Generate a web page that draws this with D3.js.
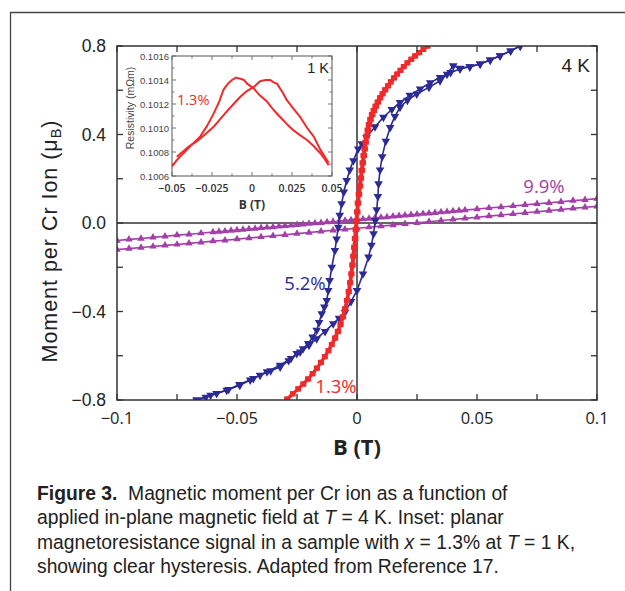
<!DOCTYPE html>
<html><head><meta charset="utf-8">
<script src="https://cdn.jsdelivr.net/npm/d3@7"></script>
<style>body{margin:0;background:#fff}svg{display:block}</style>
</head><body>
<script>
// ---------- data ----------
const xTicks = [-0.1, -0.05, 0, 0.05, 0.1];
const xTickLabels = ["\u22120.1", "\u22120.05", "0", "0.05", "0.1"];
const xMinor = [-0.075, -0.025, 0.025, 0.075];
const yTicks = [-0.8, -0.4, 0, 0.4, 0.8];
const yTickLabels = ["\u22120.8", "\u22120.4", "0.0", "0.4", "0.8"];
const yMinor = [-0.6, -0.2, 0.2, 0.6];

// 1.3% sample, sweep down and sweep up  [B (T), M (muB)]
const red13Down = [[0.0293,0.800],[0.0275,0.785],[0.0257,0.770],[0.0240,0.755],[0.0224,0.740],[0.0208,0.724],[0.0193,0.707],[0.0179,0.690],[0.0165,0.673],[0.0152,0.656],[0.0139,0.638],[0.0127,0.620],[0.0115,0.602],[0.0104,0.584],[0.0094,0.566],[0.0084,0.547],[0.0075,0.528],[0.0067,0.509],[0.0060,0.490],[0.0053,0.468],[0.0047,0.445],[0.0042,0.420],[0.0037,0.393],[0.0033,0.365],[0.0029,0.335],[0.0025,0.305],[0.0021,0.272],[0.0017,0.238],[0.0013,0.203],[0.0009,0.167],[0.0005,0.130],[0.0001,0.090],[-0.0002,0.050],[-0.0005,0.010],[-0.0008,-0.030],[-0.0011,-0.070],[-0.0014,-0.110],[-0.0018,-0.150],[-0.0022,-0.190],[-0.0026,-0.230],[-0.0031,-0.270],[-0.0037,-0.310],[-0.0044,-0.350],[-0.0052,-0.388],[-0.0061,-0.424],[-0.0071,-0.458],[-0.0082,-0.490],[-0.0094,-0.520],[-0.0107,-0.549],[-0.0121,-0.577],[-0.0136,-0.604],[-0.0152,-0.630],[-0.0169,-0.656],[-0.0187,-0.681],[-0.0206,-0.705],[-0.0226,-0.728],[-0.0247,-0.750],[-0.0269,-0.772],[-0.0293,-0.795]];
const red13Up = [[-0.0290,-0.800],[-0.0266,-0.772],[-0.0244,-0.750],[-0.0222,-0.728],[-0.0202,-0.705],[-0.0183,-0.681],[-0.0165,-0.656],[-0.0148,-0.630],[-0.0132,-0.604],[-0.0117,-0.577],[-0.0103,-0.549],[-0.0089,-0.520],[-0.0077,-0.490],[-0.0066,-0.458],[-0.0056,-0.424],[-0.0047,-0.388],[-0.0039,-0.350],[-0.0032,-0.310],[-0.0026,-0.270],[-0.0021,-0.230],[-0.0016,-0.190],[-0.0012,-0.150],[-0.0008,-0.110],[-0.0005,-0.070],[-0.0002,-0.030],[0.0001,0.010],[0.0004,0.050],[0.0007,0.090],[0.0011,0.130],[0.0015,0.167],[0.0019,0.203],[0.0023,0.238],[0.0027,0.272],[0.0031,0.305],[0.0035,0.335],[0.0039,0.365],[0.0043,0.393],[0.0048,0.420],[0.0053,0.445],[0.0059,0.468],[0.0066,0.490],[0.0073,0.509],[0.0081,0.528],[0.0090,0.547],[0.0099,0.566],[0.0109,0.584],[0.0120,0.602],[0.0131,0.620],[0.0143,0.638],[0.0156,0.656],[0.0169,0.673],[0.0183,0.690],[0.0197,0.707],[0.0212,0.724],[0.0228,0.740],[0.0244,0.755],[0.0261,0.770],[0.0278,0.785],[0.0296,0.800]];

// 5.2% sample
const blue52Down = [[0.0680,0.800],[0.0640,0.778],[0.0596,0.756],[0.0555,0.737],[0.0513,0.719],[0.0470,0.706],[0.0429,0.696],[0.0390,0.680],[0.0346,0.658],[0.0305,0.634],[0.0263,0.606],[0.0220,0.577],[0.0179,0.545],[0.0145,0.513],[0.0110,0.478],[0.0075,0.435],[0.0040,0.387],[0.0020,0.358],[0.0005,0.335],[-0.0015,0.282],[-0.0030,0.240],[-0.0043,0.192],[-0.0055,0.140],[-0.0064,0.087],[-0.0072,0.035],[-0.0078,-0.019],[-0.0085,-0.072],[-0.0092,-0.124],[-0.0105,-0.200],[-0.0114,-0.260],[-0.0120,-0.305],[-0.0126,-0.350],[-0.0136,-0.380],[-0.0147,-0.410],[-0.0158,-0.450],[-0.0168,-0.485],[-0.0185,-0.515],[-0.0203,-0.545],[-0.0225,-0.568],[-0.0251,-0.590],[-0.0285,-0.622],[-0.0320,-0.651],[-0.0360,-0.668],[-0.0404,-0.688],[-0.0445,-0.710],[-0.0488,-0.733],[-0.0535,-0.752],[-0.0585,-0.771],[-0.0630,-0.787],[-0.0668,-0.800]];
const blue52Up = [[-0.0668,-0.800],[-0.0610,-0.778],[-0.0543,-0.756],[-0.0490,-0.730],[-0.0432,-0.703],[-0.0375,-0.672],[-0.0320,-0.643],[-0.0275,-0.612],[-0.0237,-0.583],[-0.0200,-0.553],[-0.0168,-0.523],[-0.0133,-0.490],[-0.0099,-0.455],[-0.0075,-0.430],[-0.0050,-0.403],[-0.0025,-0.355],[0.0000,-0.305],[0.0025,-0.230],[0.0048,-0.154],[0.0060,-0.100],[0.0069,-0.049],[0.0076,0.010],[0.0082,0.060],[0.0087,0.120],[0.0090,0.177],[0.0096,0.240],[0.0105,0.300],[0.0120,0.370],[0.0138,0.432],[0.0158,0.482],[0.0179,0.523],[0.0210,0.555],[0.0249,0.583],[0.0300,0.613],[0.0346,0.643],[0.0375,0.672],[0.0401,0.711],[0.0430,0.700],[0.0470,0.706],[0.0513,0.719],[0.0555,0.737],[0.0596,0.756],[0.0640,0.778],[0.0680,0.800]];

// 9.9% sample
const purple99Upper = [[-0.1,-0.079],[-0.095,-0.074],[-0.09,-0.070],[-0.085,-0.065],[-0.08,-0.060],[-0.075,-0.055],[-0.07,-0.051],[-0.065,-0.046],[-0.06,-0.041],[-0.0575,-0.039],[-0.055,-0.037],[-0.0525,-0.034],[-0.05,-0.032],[-0.0475,-0.030],[-0.045,-0.027],[-0.0425,-0.025],[-0.04,-0.022],[-0.0375,-0.020],[-0.035,-0.018],[-0.0325,-0.015],[-0.03,-0.013],[-0.0275,-0.011],[-0.025,-0.008],[-0.0225,-0.006],[-0.02,-0.003],[-0.0175,-0.001],[-0.015,0.001],[-0.0125,0.004],[-0.01,0.006],[-0.0075,0.008],[-0.005,0.011],[-0.0025,0.013],[0,0.016],[0.0025,0.018],[0.005,0.020],[0.0075,0.023],[0.01,0.025],[0.0125,0.027],[0.015,0.030],[0.0175,0.032],[0.02,0.035],[0.0225,0.037],[0.025,0.039],[0.0275,0.042],[0.03,0.044],[0.0325,0.046],[0.035,0.049],[0.0375,0.051],[0.04,0.054],[0.0425,0.056],[0.045,0.058],[0.05,0.063],[0.055,0.068],[0.06,0.072],[0.065,0.077],[0.07,0.082],[0.075,0.087],[0.08,0.091],[0.085,0.096],[0.09,0.101],[0.095,0.105],[0.1,0.110]];
const purple99Lower = [[-0.1,-0.120],[-0.095,-0.116],[-0.09,-0.111],[-0.085,-0.106],[-0.08,-0.101],[-0.075,-0.097],[-0.07,-0.092],[-0.065,-0.087],[-0.06,-0.082],[-0.055,-0.078],[-0.05,-0.073],[-0.045,-0.068],[-0.04,-0.063],[-0.035,-0.058],[-0.03,-0.053],[-0.025,-0.048],[-0.02,-0.043],[-0.015,-0.038],[-0.01,-0.033],[-0.005,-0.029],[0,-0.024],[0.005,-0.019],[0.01,-0.014],[0.015,-0.009],[0.02,-0.004],[0.025,0.001],[0.03,0.006],[0.035,0.011],[0.04,0.016],[0.045,0.021],[0.05,0.026],[0.055,0.031],[0.06,0.036],[0.065,0.041],[0.07,0.046],[0.075,0.051],[0.08,0.056],[0.085,0.061],[0.09,0.066],[0.095,0.071],[0.1,0.075]];

// inset: resistivity (mOhm m) vs B, x = 1.3%, T = 1 K
const insetSweepA = [[-0.05,0.10068],[-0.0465,0.10074],[-0.0435,0.10078],[-0.0406,0.10082],[-0.037,0.10087],[-0.0323,0.10093],[-0.028,0.10102],[-0.024,0.10112],[-0.0205,0.10122],[-0.0178,0.10132],[-0.015,0.10137],[-0.0125,0.10140],[-0.0100,0.10142],[-0.0073,0.10141],[-0.005,0.10140],[-0.0031,0.10137],[0.001,0.10133],[0.005,0.10127],[0.0094,0.10122],[0.0135,0.10115],[0.0177,0.10109],[0.022,0.10103],[0.026,0.10098],[0.030,0.10094],[0.0344,0.10090],[0.0385,0.10085],[0.0427,0.10079],[0.0455,0.10074],[0.0479,0.10069]];
const insetSweepB = [[-0.047,0.10076],[-0.0435,0.10080],[-0.0400,0.10084],[-0.0344,0.10089],[-0.029,0.10095],[-0.024,0.10101],[-0.0195,0.10108],[-0.0156,0.10114],[-0.0115,0.10120],[-0.0073,0.10126],[-0.003,0.10131],[0.001,0.10134],[0.005,0.10139],[0.0085,0.10140],[0.0114,0.10140],[0.0135,0.10138],[0.0156,0.10137],[0.019,0.10130],[0.0219,0.10123],[0.026,0.10116],[0.0302,0.10109],[0.0345,0.10100],[0.0385,0.10093],[0.0427,0.10082],[0.0455,0.10076],[0.0479,0.10071]];
const insetXTicks = [-0.05, -0.025, 0, 0.025, 0.05];
const insetXTickLabels = ["\u22120.05", "\u22120.025", "0", "0.025", "0.05"];
const insetYTicks = [0.1006, 0.1008, 0.1010, 0.1012, 0.1014, 0.1016];
const insetYTickLabels = ["0.1006", "0.1008", "0.1010", "0.1012", "0.1014", "0.1016"];

const captionLines = [
  [["Figure 3.", "b"], ["\u00a0 Magnetic moment per Cr ion as a function of", ""]],
  [["applied in-plane magnetic field at ", ""], ["T", "i"], [" = 4 K. Inset: planar", ""]],
  [["magnetoresistance signal in a sample with ", ""], ["x", "i"], [" = 1.3% at ", ""], ["T", "i"], [" = 1 K,", ""]],
  [["showing clear hysteresis. Adapted from Reference 17.", ""]]
];

// ---------- drawing ----------
const W = 625, H = 591;
const RED = "#f0292b", BLUE = "#2c2a94", PURPLE = "#a23fa8", FRAME = "#333";
const svg = d3.select("body").append("svg").attr("width", W).attr("height", H);

// outer figure border
svg.append("path").attr("d", "M10.5,591 L10.5,12.5 L625,12.5").attr("fill", "none").attr("stroke", "#444").attr("stroke-width", 1.3);

const x = d3.scaleLinear().domain([-0.1, 0.1]).range([117, 597]);
const y = d3.scaleLinear().domain([-0.8, 0.8]).range([400, 46]);
const L = 117, R = 597, T = 46, B = 400;

svg.append("defs").append("clipPath").attr("id", "clipMain")
  .append("rect").attr("x", L).attr("y", T).attr("width", R - L).attr("height", B - T);

// zero lines
svg.append("line").attr("x1", x(0)).attr("x2", x(0)).attr("y1", T).attr("y2", B).attr("stroke", FRAME).attr("stroke-width", 1.5);
svg.append("line").attr("x1", L).attr("x2", R).attr("y1", y(0)).attr("y2", y(0)).attr("stroke", FRAME).attr("stroke-width", 1.5);

const plotG = svg.append("g").attr("clip-path", "url(#clipMain)");
const line = d3.line().x(d => x(d[0])).y(d => y(d[1]));

function series(data, color, sym, size, rot, lw) {
  plotG.append("path").datum(data).attr("d", line).attr("fill", "none").attr("stroke", color).attr("stroke-width", lw).attr("stroke-linejoin", "round");
  plotG.append("g").selectAll("path").data(data).join("path")
    .attr("d", d3.symbol().type(sym).size(size))
    .attr("transform", d => `translate(${x(d[0])},${y(d[1])}) rotate(${rot})`)
    .attr("fill", color);
}
series(purple99Lower, PURPLE, d3.symbolTriangle, 24, 0, 1.6);
series(purple99Upper, PURPLE, d3.symbolTriangle, 24, 0, 1.6);
series(blue52Up, BLUE, d3.symbolTriangle, 32, 180, 1.6);
series(blue52Down, BLUE, d3.symbolTriangle, 32, 180, 1.6);
series(red13Up, RED, d3.symbolSquare, 26, 0, 2.6);
series(red13Down, RED, d3.symbolSquare, 26, 0, 2.6);

// frame
svg.append("rect").attr("x", L).attr("y", T).attr("width", R - L).attr("height", B - T).attr("fill", "none").attr("stroke", FRAME).attr("stroke-width", 1.5);

// ticks (inward, all four sides)
const tk = 6;
const allX = xTicks.concat(xMinor), allY = yTicks.concat(yMinor);
const tg = svg.append("g").attr("stroke", FRAME).attr("stroke-width", 1.3);
allX.forEach(v => {
  tg.append("line").attr("x1", x(v)).attr("x2", x(v)).attr("y1", B).attr("y2", B - tk);
  tg.append("line").attr("x1", x(v)).attr("x2", x(v)).attr("y1", T).attr("y2", T + tk);
});
allY.forEach(v => {
  tg.append("line").attr("y1", y(v)).attr("y2", y(v)).attr("x1", L).attr("x2", L + tk);
  tg.append("line").attr("y1", y(v)).attr("y2", y(v)).attr("x1", R).attr("x2", R - tk);
});

// tick labels
svg.append("g").selectAll("text").data(xTicks).join("text")
  .attr("x", d => x(d)).attr("y", 424).attr("text-anchor", "middle")
  .attr("font-family", "Open Sans, sans-serif").attr("font-size", 16.5).attr("fill", "#222")
  .text((d, i) => xTickLabels[i]);
svg.append("g").selectAll("text").data(yTicks).join("text")
  .attr("x", 106).attr("y", d => y(d) + 6).attr("text-anchor", "end")
  .attr("font-family", "Liberation Sans, Arial, sans-serif").attr("font-size", 17.5).attr("fill", "#222")
  .text((d, i) => yTickLabels[i]);

// axis titles
svg.append("text").attr("x", x(0)).attr("y", 455).attr("text-anchor", "middle")
  .attr("font-family", "Open Sans, sans-serif").attr("font-weight", 700).attr("font-size", 22).attr("fill", "#222").text("B (T)");
const yt = svg.append("text").attr("transform", "translate(57,241) rotate(-90)").attr("text-anchor", "middle")
  .attr("font-family", "Liberation Sans, Arial, sans-serif").attr("font-size", 21.5).attr("fill", "#222");
yt.append("tspan").text("Moment per Cr Ion (\u03bc");
yt.append("tspan").attr("font-size", 14.5).attr("dy", 4).text("B");
yt.append("tspan").attr("dy", -4).text(")");
{
  const n = yt.text().length;
  const w = yt.node().getComputedTextLength();
  yt.attr("letter-spacing", Math.max(0, (243 - w) / n));
}

// annotations
svg.append("text").attr("x", 590).attr("y", 72).attr("text-anchor", "end").attr("font-family", "Liberation Sans, Arial, sans-serif").attr("font-size", 19).attr("fill", "#222").text("4 K");
svg.append("text").attr("x", 544).attr("y", 193).attr("text-anchor", "middle").attr("font-family", "Open Sans, sans-serif").attr("font-size", 18.5).attr("fill", PURPLE).text("9.9%");
svg.append("text").attr("x", 305).attr("y", 290).attr("text-anchor", "middle").attr("font-family", "Open Sans, sans-serif").attr("font-size", 18.5).attr("fill", BLUE).text("5.2%");
svg.append("text").attr("x", 336).attr("y", 393).attr("text-anchor", "middle").attr("font-family", "Open Sans, sans-serif").attr("font-size", 18.5).attr("fill", RED).text("1.3%");

// ---------- inset ----------
const ix = d3.scaleLinear().domain([-0.05, 0.05]).range([172, 332]);
const iy = d3.scaleLinear().domain([0.1006, 0.1016]).range([176, 56]);
svg.append("rect").attr("x", 172).attr("y", 56).attr("width", 160).attr("height", 120).attr("fill", "#fff").attr("stroke", "#555").attr("stroke-width", 1);
const ig = svg.append("g").attr("stroke", "#666").attr("stroke-width", 0.9);
d3.range(0, 9).map(i => -0.05 + i * 0.0125).forEach((v, i) => {
  const len = i % 2 === 0 ? 4 : 2.5;
  ig.append("line").attr("x1", ix(v)).attr("x2", ix(v)).attr("y1", 176).attr("y2", 176 - len);
  ig.append("line").attr("x1", ix(v)).attr("x2", ix(v)).attr("y1", 56).attr("y2", 56 + len);
});
d3.range(0, 11).map(i => 0.1006 + i * 0.0001).forEach((v, i) => {
  const len = i % 2 === 0 ? 4 : 2.5;
  ig.append("line").attr("y1", iy(v)).attr("y2", iy(v)).attr("x1", 172).attr("x2", 172 + len);
  ig.append("line").attr("y1", iy(v)).attr("y2", iy(v)).attr("x1", 332).attr("x2", 332 - len);
});
const iline = d3.line().x(d => ix(d[0])).y(d => iy(d[1]));
svg.append("path").datum(insetSweepA).attr("d", iline).attr("fill", "none").attr("stroke", RED).attr("stroke-width", 2).attr("stroke-linejoin", "round");
svg.append("path").datum(insetSweepB).attr("d", iline).attr("fill", "none").attr("stroke", RED).attr("stroke-width", 2).attr("stroke-linejoin", "round");

svg.append("g").selectAll("text").data(insetYTicks).join("text")
  .attr("x", 169).attr("y", d => iy(d) + 3.5).attr("text-anchor", "end")
  .attr("font-family", "Liberation Sans, Arial, sans-serif").attr("font-size", 9.5).attr("fill", "#444")
  .text((d, i) => insetYTickLabels[i]);
svg.append("g").selectAll("text").data(insetXTicks).join("text")
  .attr("x", d => ix(d)).attr("y", 192).attr("text-anchor", "middle")
  .attr("font-family", "Open Sans, sans-serif").attr("font-weight", 600).attr("font-size", 10.5).attr("fill", "#333")
  .text((d, i) => insetXTickLabels[i]);
svg.append("text").attr("x", ix(0)).attr("y", 209).attr("text-anchor", "middle")
  .attr("font-family", "Open Sans, sans-serif").attr("font-weight", 700).attr("font-size", 12).attr("fill", "#333").text("B (T)");
svg.append("text").attr("transform", "translate(134,108) rotate(-90)").attr("text-anchor", "middle")
  .attr("font-family", "Liberation Sans, Arial, sans-serif").attr("font-size", 10.5).attr("fill", "#444").text("Resistivity (m\u03a9m)");
svg.append("text").attr("x", 329).attr("y", 73).attr("text-anchor", "end").attr("font-family", "Liberation Sans, Arial, sans-serif").attr("font-size", 14.5).attr("fill", "#222").text("1 K");
svg.append("text").attr("x", 177).attr("y", 105).attr("font-family", "Open Sans, sans-serif").attr("font-size", 14.5).attr("fill", RED).text("1.3%");

// ---------- caption ----------
const cap = svg.append("g").attr("font-family", "Liberation Sans, Arial, Helvetica, sans-serif").attr("font-size", 19.3).attr("fill", "#222");
captionLines.forEach((parts, i) => {
  const t = cap.append("text").attr("x", 37).attr("y", 500 + i * 24.3);
  parts.forEach(p => {
    const s = t.append("tspan").text(p[0]);
    if (p[1] === "b") s.attr("font-weight", 700);
    if (p[1] === "i") s.attr("font-style", "italic");
  });
});
</script>
</body></html>
